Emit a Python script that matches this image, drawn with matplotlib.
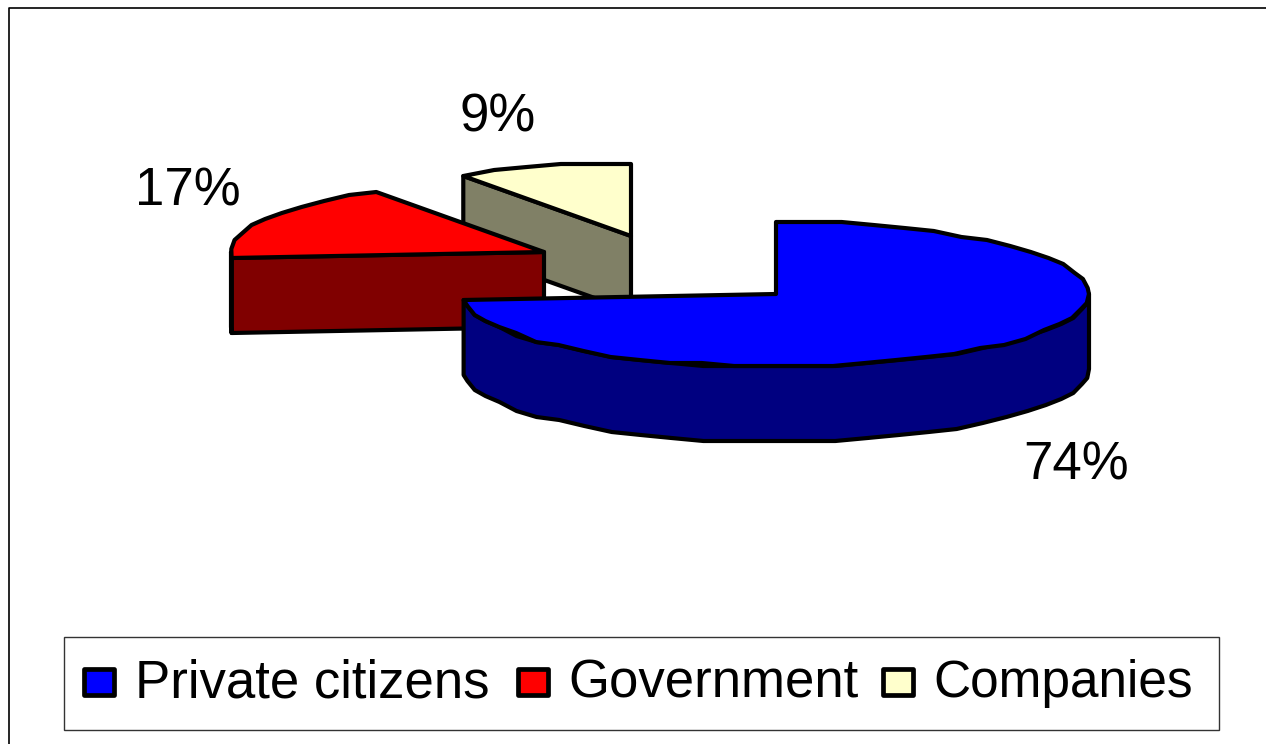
import numpy as np
import matplotlib
matplotlib.use("Agg")
import matplotlib.pyplot as plt
from matplotlib.patches import Polygon, Rectangle

plt.rcParams["font.family"] = ["Liberation Sans", "DejaVu Sans"]

# Data
categories = ["Private citizens", "Government", "Companies"]
shares = [74, 17, 9]
labels = ["74%", "17%", "9%"]

# Colours: top face and side face
top_colors = ["#0000ff", "#ff0000", "#ffffcc"]
side_colors = ["#000080", "#800000", "#808066"]

# Pie geometry in pixels
rx, ry = 313, 72.5
depth = 75
centers = [(776, 294), (544, 252), (631, 236)]
label_pos = [(1076, 465), (188, 192), (498, 118)]

fig = plt.figure(figsize=(12.66, 7.44), dpi=100)
ax = fig.add_axes([0, 0, 1, 1])
ax.set_xlim(0, 1266)
ax.set_ylim(744, 0)
ax.axis("off")

LW = 3


def arc(center, a0, a1, step=6):
    # angles are clockwise from 12 o'clock, y snapped so the rim looks stepped like the original
    n = max(2, int(abs(a1 - a0) / step) + 1)
    t = np.radians(np.linspace(a0, a1, n))
    x = center[0] + rx * np.sin(t)
    y = center[1] - ry * np.cos(t)
    y = center[1] + np.round((y - center[1]) / 3) * 3
    return np.column_stack([x, y])


# Outer frame, open on the right and at the bottom
ax.plot([9, 9, 1266], [744, 8, 8], color="black", lw=1.2, zorder=1)

# Slice angles
bounds = np.cumsum([0] + shares) * 3.6

# Draw back to front: companies, government, private citizens
for i in [2, 1, 0]:
    a0, a1 = bounds[i], bounds[i + 1]
    c = np.array(centers[i])
    pts = arc(c, a0, a1)
    z = 3 + (2 - i)

    # cut face on the start-angle side, from rim to centre
    if i > 0:
        start = arc(c, a0, a0)[0]
        face = [start, c, c + [0, depth], start + [0, depth]]
        ax.add_patch(Polygon(face, fc=side_colors[i], ec="black", lw=LW, joinstyle="round", zorder=z))
    # outer rim, only the part facing the viewer
    lo, hi = max(a0, 90), min(a1, 270)
    if hi > lo:
        rim = arc(c, lo, hi)
        face = np.vstack([rim, (rim + [0, depth])[::-1]])
        ax.add_patch(Polygon(face, fc=side_colors[i], ec="black", lw=LW, joinstyle="round", zorder=z))
    # top face
    ax.add_patch(Polygon(np.vstack([c, pts]), fc=top_colors[i], ec="black", lw=LW, joinstyle="round", zorder=z))
    ax.text(label_pos[i][0], label_pos[i][1], labels[i], fontsize=38, ha="center", va="center", zorder=10)

# Legend box
ax.add_patch(Rectangle((64, 637), 1155, 93, fc="white", ec="#333333", lw=1, zorder=2))
swatch_x = [84, 518, 883]
text_x = [135, 568, 933]
legend_size = [38, 38, 37]
for sx, tx, name, col, fs in zip(swatch_x, text_x, categories, top_colors, legend_size):
    ax.add_patch(Rectangle((sx, 669), 30, 26, fc=col, ec="black", lw=3.4, joinstyle="round", zorder=3))
    ax.text(tx, 683, name, fontsize=fs, ha="left", va="center", zorder=3)

fig.savefig("out.png", dpi=100)
